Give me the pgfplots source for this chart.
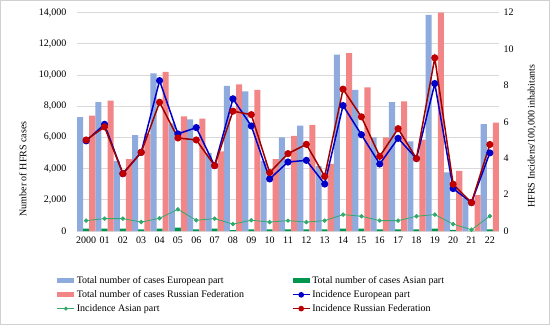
\documentclass[border=0pt]{standalone}
\usepackage{fontspec}
\setmainfont{Liberation Serif}
\usepackage{pgfplots}
\pgfplotsset{compat=1.18}
\usepackage{pgfplotstable}

\definecolor{eubar}{RGB}{143,170,220}
\definecolor{rfbar}{RGB}{242,133,133}
\definecolor{asbar}{RGB}{0,150,80}
\definecolor{euline}{RGB}{0,0,200}
\definecolor{rfline}{RGB}{160,0,0}
\definecolor{rfmark}{RGB}{192,0,0}
\definecolor{asline}{RGB}{50,170,110}
\definecolor{gridc}{RGB}{217,217,217}

\pgfplotstableread{
x eu as rf ieu ias irf
0 7300 150 7400 4.95 0.57 5.00
1 8250 150 8350 5.86 0.68 5.72
2 4500 150 4600 3.15 0.68 3.15
3 6150 100 6200 4.32 0.49 4.32
4 10100 150 10200 8.26 0.70 7.07
5 6900 220 7350 5.33 1.19 5.11
6 7150 100 7200 5.68 0.59 5.00
7 5000 150 5100 3.59 0.68 3.59
8 9300 60 9400 7.26 0.38 6.58
9 8950 100 9050 5.77 0.59 6.39
10 4500 100 4600 2.86 0.49 3.21
11 6000 100 6100 3.79 0.57 4.25
12 6750 100 6800 3.88 0.49 4.76
13 4150 100 4300 2.58 0.57 3.00
14 11300 150 11400 6.89 0.90 7.79
15 9050 150 9200 5.29 0.81 6.27
16 6000 100 6000 3.68 0.57 4.10
17 8250 100 8300 5.09 0.57 5.62
18 5750 100 5850 3.98 0.81 3.98
19 13850 150 14000 8.10 0.90 9.51
20 3750 80 3850 2.33 0.38 2.57
21 2100 20 2300 1.56 0.07 1.56
22 6850 100 6950 4.29 0.82 4.75
}\data

\pgfplotsset{
  barleg/.style={legend image code/.code={\fill[##1, draw=none] (0pt,-2.5pt) rectangle (17pt,2.5pt);}},
  lineleg/.style={legend image code/.code={\draw[mark repeat=2,mark phase=2,##1] plot coordinates {(0pt,0pt) (8.5pt,0pt) (17pt,0pt)};}},
}

\begin{document}
\begin{tikzpicture}[x=1pt,y=1pt]
\begin{axis}[
  at={(77pt,94pt)}, anchor=south west,
  scale only axis, width=422pt, height=218.5pt,
  xmin=-0.5, xmax=22.5, ymin=0, ymax=14000,
  axis line style={draw=none},
  major tick length=0pt,
  ymajorgrids, grid style={gridc, line width=0.6pt},
  xtick={0,...,22},
  xticklabels={2000,01,02,03,04,05,06,07,08,09,10,11,12,13,14,15,16,17,18,19,20,21,22},
  ytick={0,2000,...,14000},
  scaled y ticks=false,
  /pgf/number format/1000 sep={,},
  /pgf/number format/assume math mode=true,
  yticklabel style={xshift=-7pt, font=\fontsize{10}{12}\selectfont},
  xticklabel style={yshift=-2.5pt, font=\fontsize{10}{12}\selectfont},
  ylabel={Number of HFRS cases},
  ylabel style={at={(axis description cs:-0.128,0.284)}, anchor=center, font=\fontsize{10}{12}\selectfont},
]
\addplot[ybar, bar width=6.1pt, bar shift=-6.1pt, fill=eubar, draw=none] table[x=x,y=eu]{\data};
\addplot[ybar, bar width=6.1pt, bar shift=0pt, fill=asbar, draw=none] table[x=x,y=as]{\data};
\addplot[ybar, bar width=6.1pt, bar shift=6.1pt, fill=rfbar, draw=none] table[x=x,y=rf]{\data};
\end{axis}
\begin{axis}[
  at={(77pt,94pt)}, anchor=south west,
  scale only axis, width=422pt, height=218.5pt,
  xmin=-0.5, xmax=22.5, ymin=0, ymax=12,
  axis x line=none,
  axis y line*=right,
  axis line style={draw=none},
  major tick length=0pt,
  ytick={0,2,...,12},
  /pgf/number format/assume math mode=true,
  yticklabel style={xshift=1pt, font=\fontsize{10}{12}\selectfont},
  ylabel={HFRS Incidens/100,000 inhabitants},
  ylabel style={at={(axis description cs:1.078,0.435)}, anchor=center, font=\fontsize{10}{12}\selectfont},
  legend columns=2,
  legend cell align=left,
  legend style={at={(axis description cs:-0.055,-0.19)}, anchor=north west,
    draw=none, fill=none, font=\fontsize{10}{12}\selectfont, row sep=1.3pt,
    /tikz/every even column/.append style={column sep=46pt}},
]
\addplot[forget plot, asline, line width=0.8pt, mark=*, mark size=1.8pt, mark options={fill=asline, draw=asline}] table[x=x,y=ias]{\data};
\addplot[forget plot, euline, line width=1.5pt, mark=*, mark size=2.8pt, mark options={fill=euline, draw=euline}] table[x=x,y=ieu]{\data};
\addplot[forget plot, rfline, line width=1.5pt, mark=*, mark size=2.8pt, mark options={fill=rfmark, draw=rfmark}] table[x=x,y=irf]{\data};
\addlegendimage{barleg, fill=eubar}
\addlegendentry{Total number of cases European part}
\addlegendimage{barleg, fill=asbar}
\addlegendentry{Total number of cases Asian part}
\addlegendimage{barleg, fill=rfbar}
\addlegendentry{Total number of cases Russian Federation}
\addlegendimage{lineleg, euline, line width=1.2pt, mark=*, mark size=2.2pt, mark options={fill=euline}}
\addlegendentry{Incidence European part}
\addlegendimage{lineleg, asline, line width=0.8pt, mark=*, mark size=1.6pt, mark options={fill=asline}}
\addlegendentry{Incidence Asian part}
\addlegendimage{lineleg, rfline, line width=1.2pt, mark=*, mark size=2.2pt, mark options={fill=rfmark, draw=rfmark}}
\addlegendentry{Incidence Russian Federation}
\end{axis}
\draw[black!18, line width=0.6pt] (0.3pt,0.3pt) rectangle (549.7pt,324.7pt);
\end{tikzpicture}
\end{document}
